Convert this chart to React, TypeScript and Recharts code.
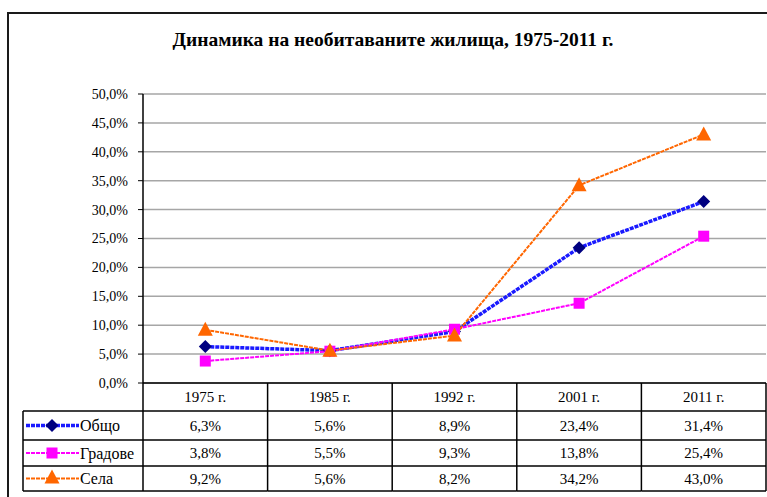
import React from 'react';
import { LineChart, Line, XAxis, YAxis, CartesianGrid } from 'recharts';

const categories = ['1975 г.', '1985 г.', '1992 г.', '2001 г.', '2011 г.'];
const obshto = [6.3, 5.6, 8.9, 23.4, 31.4];
const gradove = [3.8, 5.5, 9.3, 13.8, 25.4];
const sela = [9.2, 5.6, 8.2, 34.2, 43.0];
const yTicks = [0, 5, 10, 15, 20, 25, 30, 35, 40, 45, 50];
const seriesNames = ['Общо', 'Градове', 'Села'];
const title = 'Динамика на необитаваните жилища, 1975-2011 г.';

const data = categories.map((c, i) => ({ cat: c, obshto: obshto[i], gradove: gradove[i], sela: sela[i] }));
const seriesValues = [obshto, gradove, sela];

const W = 767;
const H = 497;
const PLOT_LEFT = 143;
const PLOT_TOP = 94;
const PLOT_BOTTOM = 383;
const RIGHT_M = 1;
const PLOT_W = W - RIGHT_M - PLOT_LEFT;
const COL_W = PLOT_W / categories.length;
const ROW_Y = [PLOT_BOTTOM, 411, 440, 466, 491];
const FONT = 'Liberation Serif';

const COLORS = {
  obshtoLine: '#1a1aff',
  obshtoMark: '#000080',
  grad: '#ff00ff',
  sela: '#ff6600',
};

const fmt = (v: number) => v.toFixed(1).replace('.', ',') + '%';

const Diamond = (props: any) => {
  const { cx, cy } = props;
  if (cx == null || cy == null) return null;
  const r = 6.5;
  return <path d={`M${cx},${cy - r}L${cx + r},${cy}L${cx},${cy + r}L${cx - r},${cy}Z`} fill={COLORS.obshtoMark} />;
};
const Square = (props: any) => {
  const { cx, cy } = props;
  if (cx == null || cy == null) return null;
  const s = 5.5;
  return <rect x={cx - s} y={cy - s} width={2 * s} height={2 * s} fill={COLORS.grad} />;
};
const Triangle = (props: any) => {
  const { cx, cy } = props;
  if (cx == null || cy == null) return null;
  return <path d={`M${cx},${cy - 8}L${cx + 7.5},${cy + 6}L${cx - 7.5},${cy + 6}Z`} fill={COLORS.sela} />;
};

const legendSample = (i: number, y: number) => {
  const x1 = 26;
  const x2 = 79;
  const mx = 52;
  if (i === 0)
    return (
      <g>
        <line x1={x1} y1={y} x2={x2} y2={y} stroke={COLORS.obshtoLine} strokeWidth={3.5} strokeDasharray="4 1" />
        <Diamond cx={mx} cy={y} />
      </g>
    );
  if (i === 1)
    return (
      <g>
        <line x1={x1} y1={y} x2={x2} y2={y} stroke={COLORS.grad} strokeWidth={2} strokeDasharray="4 1" />
        <Square cx={mx} cy={y} />
      </g>
    );
  return (
    <g>
      <line x1={x1} y1={y} x2={x2} y2={y} stroke={COLORS.sela} strokeWidth={2} strokeDasharray="4 1" />
      <Triangle cx={mx} cy={y - 1} />
    </g>
  );
};

const TableTick = (props: any) => {
  const { x, payload, index } = props;
  const left = x - COL_W / 2;
  const right = x + COL_W / 2;
  const top = PLOT_BOTTOM;
  const bottom = ROW_Y[4];
  const i = payload.index ?? index;
  return (
    <g>
      <line x1={left} y1={top} x2={left} y2={bottom} stroke="#000" strokeWidth={1.5} />
      {i === categories.length - 1 && <line x1={right} y1={top} x2={right} y2={bottom} stroke="#000" strokeWidth={1.5} />}
      {ROW_Y.slice(1).map((ry) => (
        <line key={ry} x1={left} y1={ry} x2={right} y2={ry} stroke="#000" strokeWidth={1.5} />
      ))}
      <text x={x} y={(ROW_Y[0] + ROW_Y[1]) / 2 + 5} textAnchor="middle" fontFamily={FONT} fontSize={15} fill="#000">
        {payload.value}
      </text>
      {seriesValues.map((vals, r) => (
        <text key={r} x={x} y={(ROW_Y[r + 1] + ROW_Y[r + 2]) / 2 + 5} textAnchor="middle" fontFamily={FONT} fontSize={15} fill="#000">
          {fmt(vals[i])}
        </text>
      ))}
      {i === 0 && (
        <g>
          <line x1={23} y1={ROW_Y[1]} x2={left} y2={ROW_Y[1]} stroke="#000" strokeWidth={1.5} />
          <line x1={23} y1={ROW_Y[1]} x2={23} y2={bottom} stroke="#000" strokeWidth={1.5} />
          {ROW_Y.slice(2).map((ry) => (
            <line key={ry} x1={23} y1={ry} x2={left} y2={ry} stroke="#000" strokeWidth={1.5} />
          ))}
          {seriesNames.map((n, r) => {
            const cy = (ROW_Y[r + 1] + ROW_Y[r + 2]) / 2;
            return (
              <g key={n}>
                {legendSample(r, cy)}
                <text x={80} y={cy + 5.5} fontFamily={FONT} fontSize={16} fill="#000">
                  {n}
                </text>
              </g>
            );
          })}
        </g>
      )}
    </g>
  );
};

export default function App() {
  return (
    <div style={{ position: 'absolute', left: 0, top: 0, width: W, height: H, background: '#fff' }}>
      <div
        style={{
          position: 'absolute',
          left: 7,
          top: 12,
          width: W - 7,
          height: H - 12,
          borderLeft: '2px solid #1a1a1a',
          borderTop: '2px solid #1a1a1a',
          boxSizing: 'border-box',
        }}
      />
      <div
        style={{
          position: 'absolute',
          left: 8,
          top: 29,
          width: 770,
          textAlign: 'center',
          fontFamily: FONT,
          fontWeight: 'bold',
          fontSize: 19.5,
          color: '#000',
        }}
      >
        {title}
      </div>
      <div style={{ position: 'absolute', left: 0, top: 0 }}>
        <LineChart width={W} height={H} data={data} margin={{ top: PLOT_TOP, right: RIGHT_M, bottom: 0, left: 0 }}>
          <CartesianGrid vertical={false} stroke="#a6a6a6" strokeWidth={1.5} />
          <YAxis
            width={PLOT_LEFT}
            domain={[0, 50]}
            ticks={yTicks}
            type="number"
            interval={0}
            tickFormatter={fmt}
            axisLine={{ stroke: '#000', strokeWidth: 1.5 }}
            tickLine={{ stroke: '#000' }}
            tickSize={5}
            tickMargin={10}
            tick={{ fontFamily: FONT, fontSize: 14, fill: '#000' }}
          />
          <XAxis
            dataKey="cat"
            height={H - PLOT_BOTTOM}
            padding={{ left: COL_W / 2, right: COL_W / 2 }}
            axisLine={{ stroke: '#000', strokeWidth: 1.5 }}
            tickLine={false}
            tickSize={0}
            tickMargin={0}
            interval={0}
            tick={<TableTick />}
          />
          <Line dataKey="obshto" stroke={COLORS.obshtoLine} strokeWidth={3.5} strokeDasharray="4 1" dot={<Diamond />} isAnimationActive={false} />
          <Line dataKey="gradove" stroke={COLORS.grad} strokeWidth={2} strokeDasharray="4 1" dot={<Square />} isAnimationActive={false} />
          <Line dataKey="sela" stroke={COLORS.sela} strokeWidth={2} strokeDasharray="4 1" dot={<Triangle />} isAnimationActive={false} />
        </LineChart>
      </div>
    </div>
  );
}
